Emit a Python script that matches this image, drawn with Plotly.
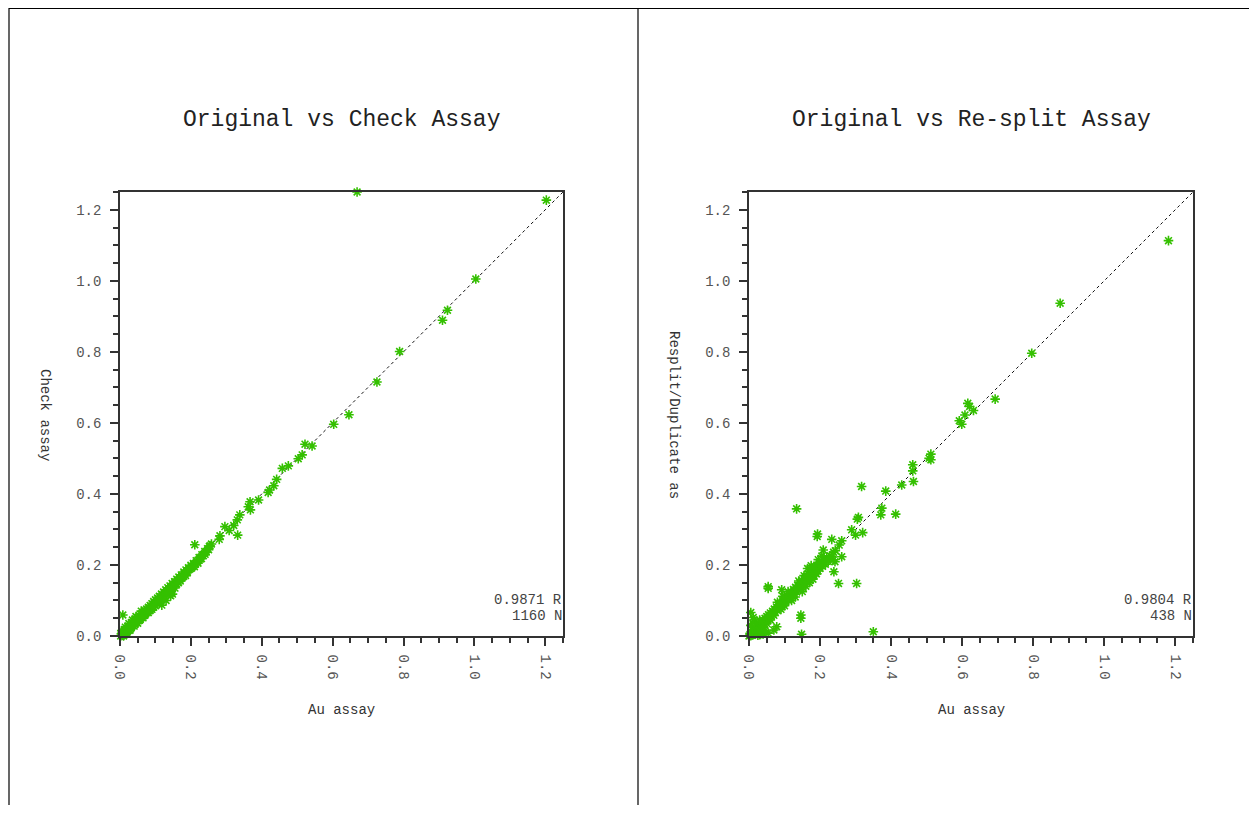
import plotly.graph_objects as go

# ---------------- data ----------------
titles = ["Original vs Check Assay", "Original vs Re-split Assay"]
x_titles = ["Au assay", "Au assay"]
y_titles = ["Check assay", "Resplit/Duplicate as"]
stats_r = ["0.9871 R", "0.9804 R"]
stats_n = ["1160 N", "438 N"]
tick_vals = [0.0, 0.2, 0.4, 0.6, 0.8, 1.0, 1.2]
tick_text = ["0.0", "0.2", "0.4", "0.6", "0.8", "1.0", "1.2"]

# Left panel: outlying points
check_out_x = [0.669, 1.203, 1.004, 0.924, 0.910, 0.789, 0.725, 0.646, 0.603, 0.542, 0.522,
               0.514, 0.503, 0.475, 0.458, 0.442, 0.434, 0.418, 0.422, 0.391, 0.367, 0.368,
               0.362, 0.338, 0.331, 0.321, 0.296, 0.308, 0.332, 0.282, 0.280, 0.211, 0.258,
               0.252, 0.008, 0.143, 0.118]
check_out_y = [1.250, 1.227, 1.005, 0.917, 0.889, 0.801, 0.715, 0.623, 0.596, 0.535, 0.540,
               0.510, 0.499, 0.479, 0.472, 0.441, 0.423, 0.404, 0.411, 0.383, 0.378, 0.355,
               0.364, 0.341, 0.327, 0.311, 0.308, 0.297, 0.284, 0.282, 0.272, 0.257, 0.259,
               0.252, 0.059, 0.113, 0.087]
# Left panel: dense cluster along the 1:1 line
check_cl_x = [0.002, 0.004, 0.006, 0.008, 0.010, 0.012, 0.014, 0.016, 0.018, 0.020, 0.022,
              0.025, 0.027, 0.030, 0.032, 0.035, 0.037, 0.040, 0.042, 0.045, 0.047, 0.050,
              0.052, 0.055, 0.057, 0.060, 0.062, 0.065, 0.067, 0.070, 0.072, 0.075, 0.077,
              0.080, 0.082, 0.085, 0.087, 0.090, 0.092, 0.095, 0.097, 0.100, 0.103, 0.106,
              0.108, 0.111, 0.114, 0.117, 0.120, 0.123, 0.126, 0.129, 0.132, 0.135, 0.138,
              0.141, 0.144, 0.147, 0.150, 0.154, 0.157, 0.160, 0.163, 0.166, 0.170, 0.173,
              0.176, 0.180, 0.183, 0.186, 0.190, 0.193, 0.196, 0.200, 0.204, 0.207, 0.211,
              0.215, 0.219, 0.223, 0.227, 0.231, 0.235, 0.239, 0.243, 0.247, 0.250, 0.254,
              0.015, 0.025, 0.035, 0.005, 0.045, 0.060, 0.130, 0.125, 0.148, 0.100, 0.090,
              0.170, 0.180, 0.200, 0.210, 0.220, 0.240, 0.012, 0.020, 0.030, 0.140, 0.155,
              0.040, 0.055, 0.070, 0.085, 0.105, 0.115, 0.135, 0.160, 0.175, 0.190, 0.230,
              0.010, 0.018, 0.028, 0.050, 0.065, 0.080, 0.095, 0.110, 0.145, 0.165, 0.185]
check_cl_y = [0.000, 0.006, 0.002, 0.010, 0.004, 0.013, 0.008, 0.018, 0.011, 0.022, 0.015,
              0.026, 0.018, 0.031, 0.024, 0.037, 0.029, 0.042, 0.033, 0.047, 0.038, 0.052,
              0.043, 0.057, 0.047, 0.062, 0.052, 0.067, 0.057, 0.072, 0.062, 0.076, 0.066,
              0.081, 0.071, 0.086, 0.076, 0.091, 0.081, 0.097, 0.087, 0.102, 0.092, 0.107,
              0.097, 0.112, 0.103, 0.118, 0.109, 0.124, 0.114, 0.130, 0.121, 0.136, 0.127,
              0.141, 0.132, 0.148, 0.139, 0.153, 0.146, 0.160, 0.152, 0.166, 0.161, 0.172,
              0.167, 0.180, 0.174, 0.186, 0.182, 0.192, 0.188, 0.199, 0.195, 0.204, 0.201,
              0.212, 0.208, 0.221, 0.217, 0.229, 0.226, 0.238, 0.236, 0.246, 0.243, 0.254,
              0.025, 0.035, 0.045, 0.015, 0.055, 0.070, 0.100, 0.105, 0.118, 0.085, 0.075,
              0.155, 0.168, 0.190, 0.195, 0.205, 0.230, 0.004, 0.008, 0.020, 0.120, 0.135,
              0.028, 0.044, 0.058, 0.072, 0.094, 0.102, 0.122, 0.146, 0.163, 0.178, 0.218,
              0.000, 0.006, 0.016, 0.036, 0.051, 0.066, 0.081, 0.097, 0.128, 0.150, 0.170]

# Right panel: outlying points
resplit_out_x = [1.181, 0.876, 0.796, 0.693, 0.616, 0.621, 0.632, 0.608, 0.592, 0.599, 0.512,
                 0.512, 0.507, 0.461, 0.461, 0.463, 0.430, 0.385, 0.317, 0.134, 0.308, 0.305,
                 0.374, 0.371, 0.413, 0.289, 0.320, 0.300, 0.193, 0.192, 0.254, 0.261, 0.233,
                 0.209, 0.261, 0.237, 0.242, 0.239, 0.252, 0.303, 0.054, 0.054, 0.092, 0.146,
                 0.146, 0.148, 0.350, 0.070, 0.054, 0.040, 0.005, 0.014, 0.022, 0.078]
resplit_out_y = [1.113, 0.937, 0.796, 0.667, 0.655, 0.646, 0.635, 0.622, 0.606, 0.596, 0.512,
                 0.496, 0.500, 0.482, 0.465, 0.435, 0.425, 0.408, 0.421, 0.358, 0.334, 0.329,
                 0.360, 0.341, 0.343, 0.299, 0.291, 0.284, 0.287, 0.280, 0.256, 0.268, 0.272,
                 0.242, 0.223, 0.214, 0.209, 0.181, 0.148, 0.148, 0.134, 0.139, 0.130, 0.059,
                 0.050, 0.005, 0.012, 0.017, 0.008, 0.006, 0.066, 0.045, 0.017, 0.026]
# Right panel: dense cluster along the 1:1 line
resplit_cl_x = [0.000, 0.003, 0.005, 0.008, 0.010, 0.012, 0.015, 0.018, 0.020, 0.023, 0.025,
                0.028, 0.030, 0.032, 0.035, 0.038, 0.040, 0.043, 0.045, 0.048, 0.050, 0.053,
                0.055, 0.058, 0.060, 0.063, 0.066, 0.068, 0.071, 0.074, 0.077, 0.080, 0.083,
                0.086, 0.089, 0.092, 0.095, 0.098, 0.101, 0.104, 0.107, 0.110, 0.113, 0.116,
                0.119, 0.122, 0.125, 0.128, 0.131, 0.134, 0.137, 0.140, 0.143, 0.146, 0.149,
                0.152, 0.155, 0.158, 0.161, 0.164, 0.167, 0.170, 0.173, 0.176, 0.179, 0.182,
                0.185, 0.188, 0.191, 0.194, 0.197, 0.200, 0.204, 0.207, 0.211, 0.215, 0.219,
                0.223, 0.228, 0.233, 0.238, 0.243, 0.150, 0.160, 0.170, 0.180, 0.190, 0.165,
                0.175, 0.120, 0.130, 0.100, 0.090, 0.070, 0.060, 0.050, 0.040, 0.025, 0.035,
                0.045, 0.020, 0.010, 0.015, 0.005, 0.012, 0.030, 0.080, 0.095, 0.110, 0.140,
                0.155, 0.195, 0.205]
resplit_cl_y = [0.000, 0.005, 0.001, 0.010, 0.003, 0.014, 0.006, 0.020, 0.010, 0.024, 0.014,
                0.030, 0.004, 0.022, 0.038, 0.028, 0.044, 0.034, 0.050, 0.040, 0.055, 0.045,
                0.060, 0.050, 0.065, 0.056, 0.070, 0.061, 0.076, 0.066, 0.082, 0.072, 0.088,
                0.078, 0.094, 0.084, 0.100, 0.090, 0.106, 0.096, 0.112, 0.101, 0.118, 0.107,
                0.124, 0.112, 0.131, 0.118, 0.137, 0.124, 0.143, 0.130, 0.150, 0.136, 0.156,
                0.141, 0.162, 0.147, 0.168, 0.152, 0.175, 0.158, 0.181, 0.163, 0.188, 0.170,
                0.195, 0.176, 0.200, 0.183, 0.203, 0.190, 0.208, 0.196, 0.214, 0.202, 0.221,
                0.210, 0.226, 0.224, 0.236, 0.240, 0.125, 0.140, 0.150, 0.160, 0.175, 0.190,
                0.198, 0.100, 0.110, 0.085, 0.075, 0.058, 0.045, 0.035, 0.025, 0.002, 0.010,
                0.015, 0.035, 0.025, 0.040, 0.030, 0.052, 0.045, 0.095, 0.112, 0.125, 0.155,
                0.170, 0.215, 0.225]

line_vals = [0.0, 1.25]

# ---------------- figure ----------------
OFF = 8                      # page body margin
W, H = 1257 - 2 * OFF, 813 - 2 * OFF
FONT = "Liberation Mono, Courier New, monospace"
GREEN = "#34c000"

def px_x(p):
    return (p - OFF) / W

def px_y(p):
    return 1 - (p - OFF) / H

panels = [
    dict(x=check_out_x + check_cl_x, y=check_out_y + check_cl_y, dom=(120, 563)),
    dict(x=resplit_out_x + resplit_cl_x, y=resplit_out_y + resplit_cl_y, dom=(749, 1193)),
]
plot_top, plot_bot = 192, 636

fig = go.Figure()
annotations = []
for i, p in enumerate(panels):
    ax = "" if i == 0 else str(i + 1)
    fig.add_trace(go.Scatter(
        x=line_vals, y=line_vals, mode="lines",
        line=dict(color="#111111", width=1, dash="dot"),
        xaxis="x" + ax, yaxis="y" + ax, showlegend=False, hoverinfo="skip"))
    fig.add_trace(go.Scatter(
        x=p["x"], y=p["y"], mode="markers",
        marker=dict(symbol="asterisk-open", size=8, color=GREEN,
                    line=dict(color=GREEN, width=1.6)),
        cliponaxis=False,
        xaxis="x" + ax, yaxis="y" + ax, showlegend=False))
    common = dict(range=[0, 1.25], showgrid=False, zeroline=False, automargin=False,
                  showline=True, linecolor="#333333", linewidth=1.5, mirror=True,
                  ticks="outside", ticklen=8, tickwidth=1.5, tickcolor="#333333",
                  tickvals=tick_vals, ticktext=tick_text,
                  minor=dict(dtick=0.05, tick0=0, ticks="outside", ticklen=5,
                             tickwidth=1.5, tickcolor="#333333"),
                  tickfont=dict(family=FONT, size=14, color="#555555"),
                  fixedrange=True)
    fig.update_layout(**{
        "xaxis" + ax: dict(common, domain=[px_x(p["dom"][0]), px_x(p["dom"][1])],
                           anchor="y" + ax, tickangle=90, ticklabelstandoff=6),
        "yaxis" + ax: dict(common, domain=[px_y(plot_bot), px_y(plot_top)],
                           anchor="x" + ax, ticklabelstandoff=6),
    })
    cx = (p["dom"][0] + p["dom"][1]) / 2
    annotations += [
        dict(text=titles[i], x=px_x(cx), y=px_y(120), xref="paper", yref="paper",
             showarrow=False, xanchor="center", yanchor="middle",
             font=dict(family=FONT, size=23, color="#222222")),
        dict(text=x_titles[i], x=px_x(cx), y=px_y(710), xref="paper", yref="paper",
             showarrow=False, xanchor="center", yanchor="middle",
             font=dict(family=FONT, size=14, color="#333333")),
        dict(text=y_titles[i], x=px_x(p["dom"][0] - 75), y=px_y(415), xref="paper",
             yref="paper", showarrow=False, xanchor="center", yanchor="middle",
             textangle=90, font=dict(family=FONT, size=14, color="#333333")),
        dict(text=stats_r[i], x=px_x(p["dom"][1] + 1), y=px_y(600), xref="paper",
             yref="paper", showarrow=False, xanchor="right", yanchor="middle",
             font=dict(family=FONT, size=14, color="#444444")),
        dict(text=stats_n[i], x=px_x(p["dom"][1] + 1), y=px_y(616), xref="paper",
             yref="paper", showarrow=False, xanchor="right", yanchor="middle",
             font=dict(family=FONT, size=14, color="#444444")),
    ]

shapes = [
    dict(type="line", xref="paper", yref="paper", x0=px_x(9), x1=px_x(1252),
         y0=px_y(8.5), y1=px_y(8.5), line=dict(color="black", width=1.2)),
    dict(type="line", xref="paper", yref="paper", x0=px_x(9), x1=px_x(9),
         y0=px_y(8), y1=0, line=dict(color="black", width=1.2)),
    dict(type="line", xref="paper", yref="paper", x0=px_x(638), x1=px_x(638),
         y0=px_y(8), y1=0, line=dict(color="black", width=1.2)),
]

fig.update_layout(width=W, height=H, margin=dict(l=0, r=0, t=0, b=0),
                  paper_bgcolor="white", plot_bgcolor="white",
                  annotations=annotations, shapes=shapes, showlegend=False)

fig.write_html("out.html", config={"displayModeBar": False})
